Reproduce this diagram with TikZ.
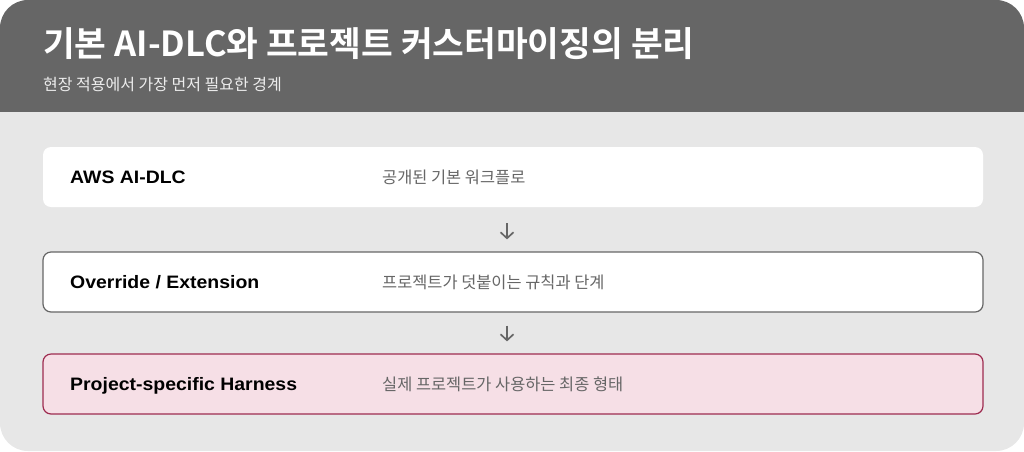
\documentclass[tikz,border=0pt]{standalone}
\usepackage{fontspec}
\setmainfont{Noto Sans CJK KR}[BoldFont=* Bold]
\newfontfamily\labelfont{Liberation Sans}[FakeStretch=1.08]
\usepackage{tikz}
\usetikzlibrary{arrows.meta}
\definecolor{headgray}{HTML}{666666}
\definecolor{bodygray}{HTML}{E7E7E7}
\definecolor{descgray}{HTML}{666666}
\definecolor{harnessfill}{HTML}{F6DFE6}
\definecolor{harnessline}{HTML}{9E2C50}

\begin{document}
\begin{tikzpicture}[x=1pt, y=-1pt,
    box/.style={rounded corners=8pt, minimum width=940pt, minimum height=60pt, inner sep=0pt},
    boxlabel/.style={anchor=base west, inner sep=0pt, font=\labelfont\bfseries\fontsize{18}{20}\selectfont},
    boxdesc/.style={anchor=base west, inner sep=0pt, text=descgray, font=\fontsize{16.4}{19}\selectfont},
    flowarrow/.style={draw=headgray, line width=1.7pt, -{Straight Barb[length=6pt, width=13pt]}}]
    \useasboundingbox (0,0) rectangle (1024,451);
    % card and header
    \fill[bodygray, rounded corners=28pt] (0,0) rectangle (1024,451);
    \begin{scope}
        \clip[rounded corners=28pt] (0,0) rectangle (1024,451);
        \fill[headgray] (0,0) rectangle (1024,112);
    \end{scope}
    \node[anchor=base west, inner sep=0pt, text=white, font=\bfseries\fontsize{34.5}{38}\selectfont] (title) at (43,56) {기본 AI-DLC와 프로젝트 커스터마이징의 분리};
    \node[anchor=base west, inner sep=0pt, text=white!93!black, font=\fontsize{16}{19}\selectfont] (subtitle) at (43,90) {현장 적용에서 가장 먼저 필요한 경계};

    % the three layers
    \node[box, fill=white] at (513,177) (aws) {};
    \node[box, fill=white, draw=headgray, line width=1.2pt] at (513,282) (ovr) {};
    \node[box, fill=harnessfill, draw=harnessline, line width=1.2pt] at (513,384) (harness) {};

    \node[boxlabel] at (70,183) (awslbl) {AWS AI-DLC};
    \node[boxdesc] at (382,183) (awsdesc) {공개된 기본 워크플로};
    \node[boxlabel] at (70,288) (ovrlbl) {Override / Extension};
    \node[boxdesc] at (382,288) (ovrdesc) {프로젝트가 덧붙이는 규칙과 단계};
    \node[boxlabel] at (70,390) (harnesslbl) {Project-specific Harness};
    \node[boxdesc] at (382,390) (harnessdesc) {실제 프로젝트가 사용하는 최종 형태};

    \draw[flowarrow, shorten <=16pt, shorten >=12pt] ([xshift=-6pt]aws.south) -- ([xshift=-6pt]ovr.north);
    \draw[flowarrow, shorten <=13pt, shorten >=12pt] ([xshift=-6pt]ovr.south) -- ([xshift=-6pt]harness.north);
\end{tikzpicture}
\end{document}
